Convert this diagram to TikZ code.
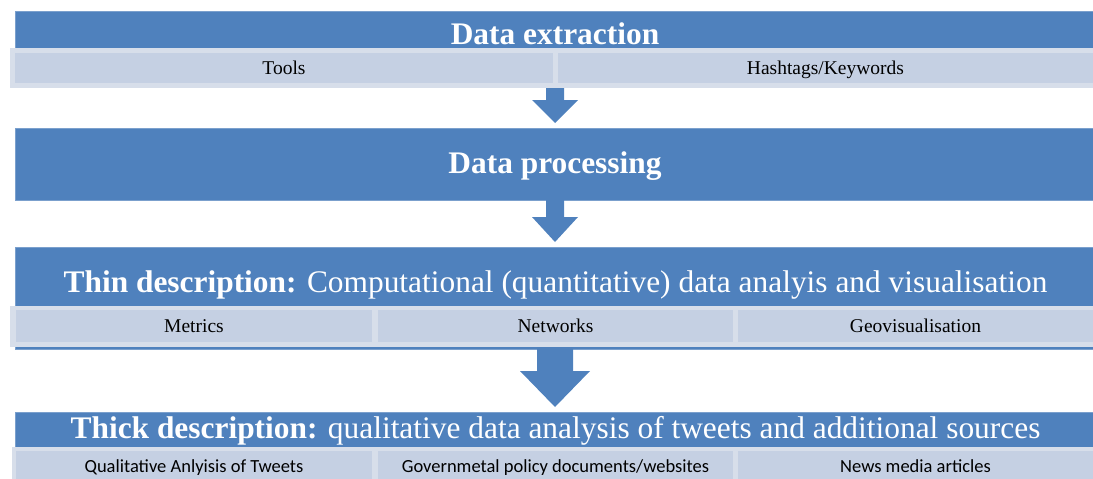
\documentclass[tikz,border=0pt]{standalone}
\usepackage{fontspec}
\setmainfont{Liberation Serif}
\newfontfamily\cellsans{Carlito}
\usetikzlibrary{calc}
\definecolor{stageblue}{HTML}{4F81BD}
\definecolor{cellfill}{HTML}{C5D0E3}
\definecolor{cellframe}{HTML}{D7DEEA}
% block arrow: #1 start, #2 tip, #3 shaft half-width, #4 head half-width, #5 shaft length
\newcommand\flowarrow[5]{%
  \fill[stageblue] ($(#1)+(-#3,0)$) -- ($(#1)+(#3,0)$) -- ($(#1)+(#3,#5)$)
    -- ($(#1)+(#4,#5)$) -- (#2) -- ($(#1)+(-#4,#5)$) -- ($(#1)+(-#3,#5)$) -- cycle;}
\begin{document}
\begin{tikzpicture}[x=1pt,y=-1pt,
  stage/.style={fill=stageblue, draw=stageblue!75!white, line width=0.6pt,
    inner sep=0pt, outer sep=0pt, anchor=north west},
  frame/.style={fill=cellframe, inner sep=0pt, outer sep=0pt, anchor=north west},
  cell/.style={fill=cellfill, inner sep=0pt, outer sep=0pt, anchor=north west,
    text=black, font=\fontsize{19.5}{22}\selectfont, text height=12pt, text depth=0pt},
  sanscell/.style={cell, font=\cellsans\fontsize{18.5}{21}\selectfont, text height=10pt},
  title/.style={anchor=base, text=white, inner sep=0pt, font=\fontsize{31.4}{36}\selectfont}]
\useasboundingbox (0,0) rectangle (1093,479);
\coordinate (axis) at (555,0);

% stage 1: data extraction
\node[stage, minimum width=1078pt, minimum height=37pt] (ext) at (15,11) {};
\node[frame, minimum width=1083pt, minimum height=40pt] (bar1) at (10,48) {};
\node[cell, minimum width=538pt, minimum height=30pt] (tools) at (15,53) {Tools};
\node[cell, minimum width=535pt, minimum height=30pt] (tags) at (558,53) {Hashtags/Keywords};
\node[title] (extT) at (555,45) {\textbf{Data extraction}};

% stage 2: data processing
\node[stage, minimum width=1078pt, minimum height=72pt] (proc) at (15,128) {};
\node[title] (procT) at (555,173) {\textbf{Data processing}};

% stage 3: thin description
\node[stage, minimum width=1078pt, minimum height=102pt] (thin) at (15,247) {};
\node[frame, minimum width=1083pt, minimum height=41pt] (bar3) at (10,306) {};
\node[cell, minimum width=356pt, minimum height=32pt] (metrics) at (16,310) {Metrics};
\node[cell, minimum width=355pt, minimum height=32pt] (networks) at (378,310) {Networks};
\node[cell, minimum width=355pt, minimum height=32pt] (geo) at (738,310) {Geovisualisation};
\node[title] (thinT) at (555.5,292) {\textbf{Thin description:} Computational (quantitative) data analyis and visualisation};

% stage 4: thick description
\node[stage, minimum width=1078pt, minimum height=40pt] (thick) at (15,412) {};
\node[frame, minimum width=1081pt, minimum height=36pt] (bar4) at (12,447) {};
\node[sanscell, minimum width=356pt, minimum height=32pt] (qual) at (16,451) {Qualitative Anlyisis of Tweets};
\node[sanscell, minimum width=355pt, minimum height=32pt] (policy) at (378,451) {Governmetal policy documents/websites};
\node[sanscell, minimum width=355pt, minimum height=32pt] (news) at (738,451) {News media articles};
\node[title] (thickT) at (555.5,438) {\textbf{Thick description:} qualitative data analysis of tweets and additional sources};

% flow arrows between stages
\coordinate (s1) at (axis |- bar1.south);
\coordinate (e1) at ($(axis |- proc.north)+(0,-5)$);
\flowarrow{s1}{e1}{9}{23}{12}
\coordinate (s2) at (axis |- proc.south);
\coordinate (e2) at ($(axis |- thin.north)+(0,-5)$);
\flowarrow{s2}{e2}{9}{23}{17}
\coordinate (s3) at (axis |- thin.south);
\coordinate (e3) at ($(axis |- thick.north)+(0,-5)$);
\flowarrow{s3}{e3}{18}{35}{22}
\end{tikzpicture}
\end{document}
